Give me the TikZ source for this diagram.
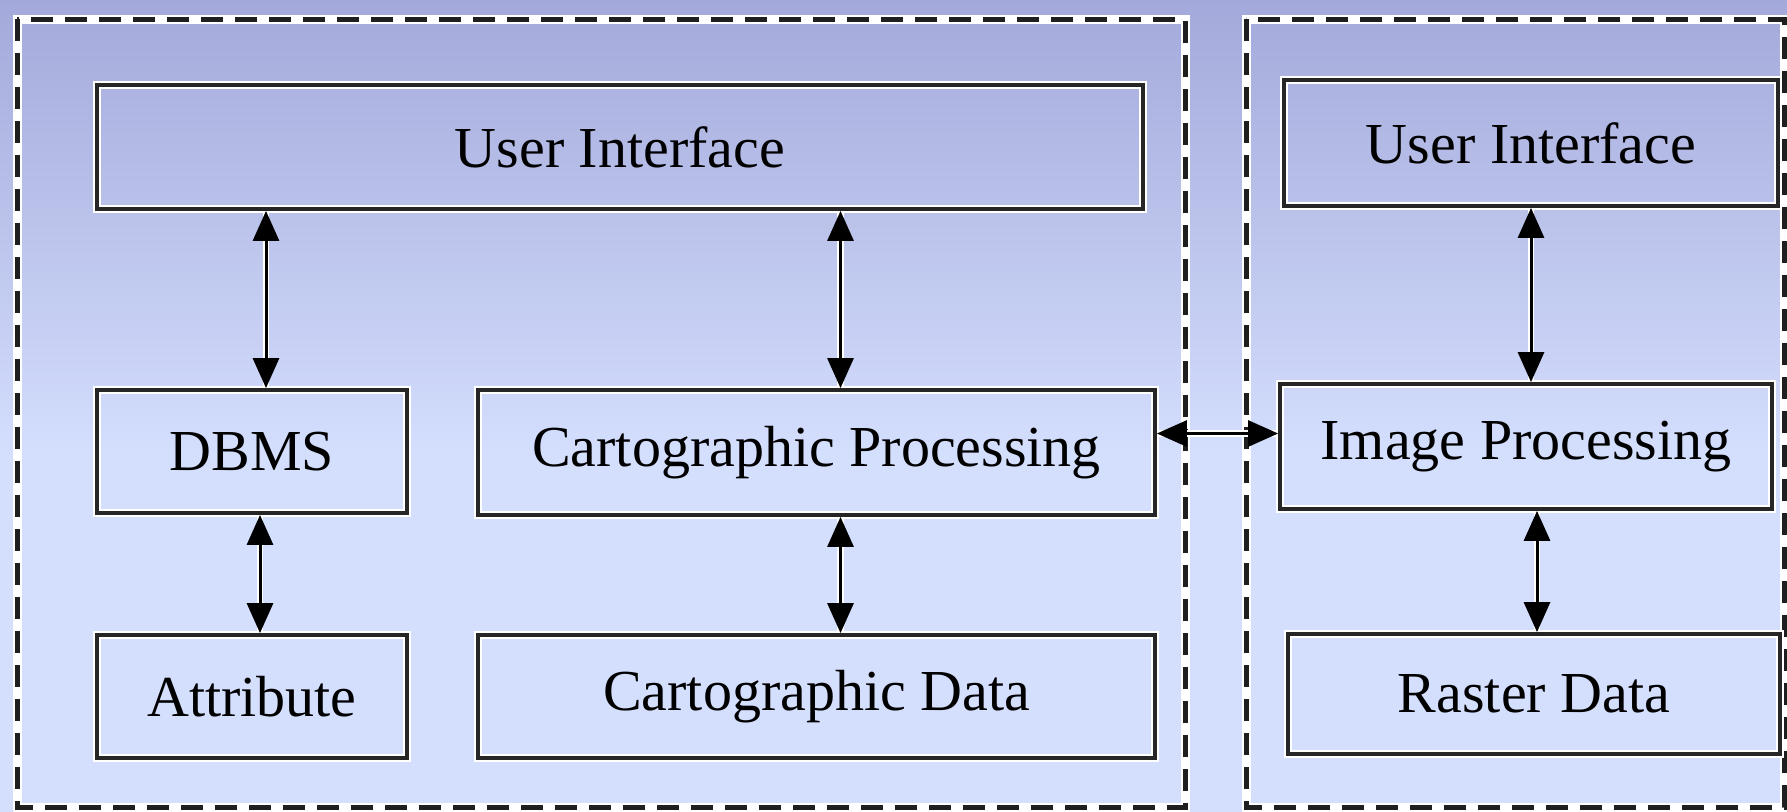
\documentclass[tikz,border=0pt]{standalone}
\usepackage{fontspec}
\setmainfont{Liberation Serif}
\usepackage{tikz}
\usetikzlibrary{arrows.meta,positioning,calc}

\definecolor{bghigh}{RGB}{163,169,218}
\definecolor{bglow}{RGB}{212,222,253}
\definecolor{edge}{RGB}{38,38,38}
% only 25bp..75bp of the shading covers the path
\pgfdeclareverticalshading{bgfade}{100bp}{color(0bp)=(bglow); color(47bp)=(bglow); color(75bp)=(bghigh); color(100bp)=(bghigh)}

\tikzset{
    >=Stealth,
    halo/.style={preaction={draw=white, line width=#1}}
}

\begin{document}
\begin{tikzpicture}[
  x=1pt, y=-1pt,
  block/.style={rectangle, draw=edge, line width=3.8pt, halo=7.5pt, inner sep=0pt,
    text=black, font=\fontsize{58}{62}\selectfont},
  frame/.style={draw=black!88, line width=5pt, dash pattern=on 22pt off 12pt},
  link/.style={{Triangle[width=26pt,length=30pt]}-{Triangle[width=26pt,length=30pt]},
    line width=3pt, draw=black, preaction={draw=white, line width=6.5pt, -}}
]
  \useasboundingbox (0,0) rectangle (1787,811);
  % background fade, drawn with the y axis pointing up
  \begin{scope}[y=1pt]
    \shade[shading=bgfade] (0,-811) rectangle (1787,0);
  \end{scope}

  % Dashed subsystem frames
  \draw[frame, halo=9pt] (17,19) rectangle (1185,807);
  \draw[frame] (17,19) rectangle (1185,807);
  \draw[frame, halo=9pt] (1246,19) rectangle (1784,807);
  \draw[frame] (1246,19) rectangle (1784,807);

  % Left subsystem
  \node[block, minimum width=1046, minimum height=124] (ui)    at (620,147)   {User Interface};
  \node[block, minimum width=310,  minimum height=123] (dbms)  at (252,451.5) {DBMS};
  \node[block, minimum width=677,  minimum height=125] (cproc) at (816.5,452.5) {Cartographic Processing};
  \node[block, minimum width=310,  minimum height=123] (attr)  at (252,696.5) {Attribute};
  \node[block, minimum width=677,  minimum height=123] (cdata) at (816.5,696.5) {Cartographic Data};

  % Right subsystem
  \node[block, minimum width=494, minimum height=126] (rui)    at (1531,143)   {User Interface};
  \node[block, minimum width=492, minimum height=125] (iproc)  at (1526,446.5) {Image Processing};
  \node[block, minimum width=492, minimum height=120] (raster) at (1534,694)   {Raster Data};

  % Two-way links
  \draw[link] ([xshift=14pt]dbms.north) -- ([xshift=14pt]dbms.north |- ui.south);
  \draw[link] ([xshift=24pt]cproc.north) -- ([xshift=24pt]cproc.north |- ui.south);
  \draw[link] ([xshift=8pt]dbms.south) -- ([xshift=8pt]dbms.south |- attr.north);
  \draw[link] ([xshift=24pt]cproc.south) -- ([xshift=24pt]cproc.south |- cdata.north);
  \draw[link] ([yshift=19pt]cproc.east) -- ([yshift=19pt]cproc.east -| iproc.west);
  \draw[link] ([xshift=5pt]iproc.north) -- ([xshift=5pt]iproc.north |- rui.south);
  \draw[link] ([xshift=11pt]iproc.south) -- ([xshift=11pt]iproc.south |- raster.north);
\end{tikzpicture}
\end{document}
